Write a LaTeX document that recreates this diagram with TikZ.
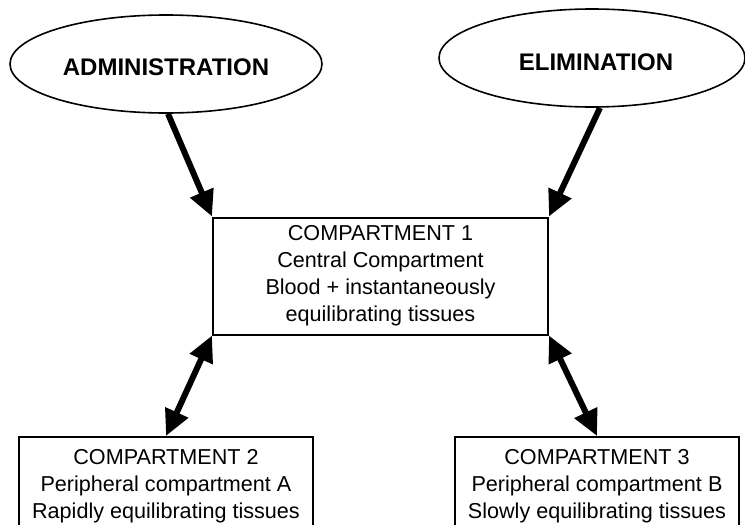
\documentclass[tikz,border=0pt]{standalone}
\usepackage{fontspec}
\setmainfont{Liberation Sans}
\usetikzlibrary{arrows.meta,calc,shapes.geometric}
\tikzset{
  proc/.style={ellipse, draw, line width=1.6pt, inner sep=0pt},
  proclabel/.style={font=\fontsize{24}{28}\selectfont\bfseries},
  compbox/.style={rectangle, draw, line width=2pt, inner sep=0pt, align=center,
    font=\fontsize{21.6}{27}\selectfont},
  flow/.style={line width=6pt, -{Triangle[length=26pt,width=24pt]}},
  exchange/.style={line width=6pt, {Triangle[length=26pt,width=24pt]}-{Triangle[length=26pt,width=24pt]}}
}
\begin{document}
\begin{tikzpicture}[x=1pt,y=-1pt]
  \useasboundingbox (0,0) rectangle (745,525);
  \clip (0,0) rectangle (745,525);
  % input and output processes
  \node[proc, minimum width=312pt, minimum height=98pt] (adm) at (166,64) {};
  \node[proclabel] (admtxt) at (166,67) {ADMINISTRATION};
  \node[proc, minimum width=306pt, minimum height=98pt] (elim) at (592,58) {};
  \node[proclabel] (elimtxt) at (596,62) {ELIMINATION};
  % compartments
  \node[compbox, minimum width=335pt, minimum height=117pt] (c1) at (380.5,276)
    {COMPARTMENT 1\\Central Compartment\\Blood + instantaneously\\equilibrating tissues};
  \node[compbox, minimum width=294pt, minimum height=98pt] (c2) at (166,486)
    {COMPARTMENT 2\\Peripheral compartment A\\Rapidly equilibrating tissues};
  \node[compbox, minimum width=284pt, minimum height=98pt] (c3) at (597,486)
    {COMPARTMENT 3\\Peripheral compartment B\\Slowly equilibrating tissues};
  % transfers
  \draw[flow] ($(adm.south)+(2,0)$) -- (c1.north west);
  \draw[flow] ($(elim.south)+(8,0)$) -- (c1.north east);
  \draw[exchange] (c2.north) -- (c1.south west);
  \draw[exchange] (c3.north) -- (c1.south east);
\end{tikzpicture}
\end{document}
